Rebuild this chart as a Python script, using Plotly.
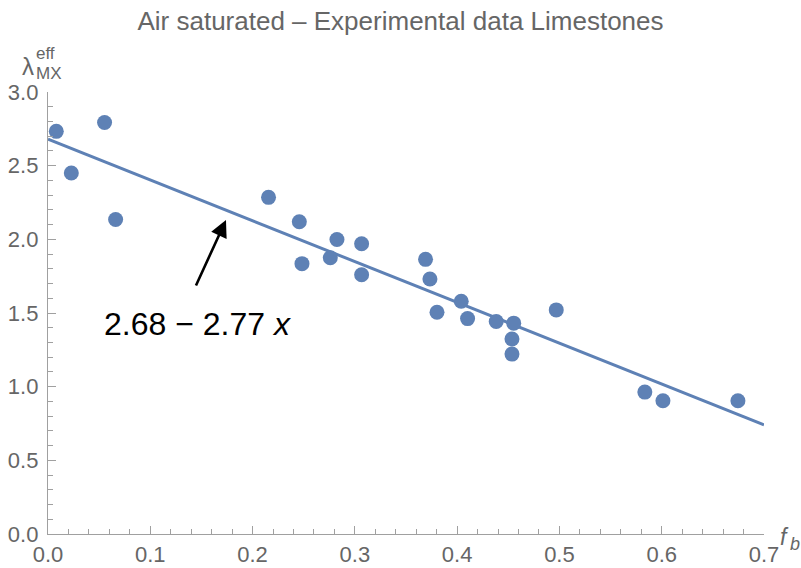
import plotly.graph_objects as go

# data
fb = [0.0081, 0.0228, 0.0553, 0.0661, 0.2156, 0.2457, 0.2483, 0.2760, 0.2825,
      0.3066, 0.3066, 0.3691, 0.3734, 0.3803, 0.4040, 0.4102, 0.4382, 0.4553,
      0.4536, 0.4536, 0.4969, 0.5835, 0.6012, 0.6745]
lam = [2.733, 2.450, 2.793, 2.135, 2.285, 2.119, 1.835, 1.875, 1.999,
       1.970, 1.760, 1.864, 1.731, 1.505, 1.580, 1.462, 1.442, 1.431,
       1.324, 1.221, 1.521, 0.963, 0.904, 0.904]
fit_a, fit_b = 2.68, -2.77
fit_x = [0.0, 0.7]
fit_y = [fit_a + fit_b * v for v in fit_x]

blue = "#5E81B5"
gray_axis = "#A0A0A0"
gray_text = "#666666"
font = "Liberation Sans"

fig = go.Figure()
fig.add_trace(go.Scatter(x=fit_x, y=fit_y, mode="lines",
                         line=dict(color=blue, width=3), hoverinfo="skip"))
fig.add_trace(go.Scatter(x=fb, y=lam, mode="markers",
                         marker=dict(color=blue, size=15, line=dict(width=0))))

fig.update_layout(
    width=801, height=568,
    margin=dict(l=47.7, r=37.3, t=91.5, b=33.5, autoexpand=False),
    paper_bgcolor="white", plot_bgcolor="white",
    showlegend=False,
    font=dict(family=font, color=gray_text),
    title=dict(text="Air saturated – Experimental data Limestones",
               x=0.5, xanchor="center", y=1 - 21 / 568, yanchor="middle",
               font=dict(size=26, color=gray_text, family=font)),
)
common = dict(showgrid=False, zeroline=False, showline=True, linecolor=gray_axis,
              linewidth=1.3, ticks="inside", ticklen=8, tickcolor=gray_axis,
              tickwidth=1.2, automargin=False,
              tickfont=dict(size=22, color=gray_text, family=font))
fig.update_xaxes(range=[0, 0.7], tick0=0, dtick=0.1, tickformat=".1f",
                 minor=dict(ticks="inside", ticklen=5, dtick=0.02, tickcolor=gray_axis, tickwidth=1),
                 **common)
fig.update_yaxes(range=[0, 3.0], tick0=0, dtick=0.5, tickformat=".1f",
                 ticklabelstandoff=4,
                 minor=dict(ticks="inside", ticklen=5, dtick=0.1, tickcolor=gray_axis, tickwidth=1),
                 **common)

# arrow
fig.add_annotation(x=0.174, y=2.131, ax=0.144, ay=1.677, xref="x", yref="y",
                   axref="x", ayref="y", showarrow=True, arrowhead=2,
                   arrowsize=1.3, arrowwidth=2.6, arrowcolor="black", text="")
fig.add_annotation(x=0.1464, y=1.426, xref="x", yref="y", showarrow=False,
                   text="2.68 − 2.77 <i>x</i>",
                   font=dict(size=32, color="black", family=font),
                   xanchor="center", yanchor="middle")

# axis labels
W, H = 716.0, 443.0
def px(xp):
    return (xp - 47.7) / W
def py(yp):
    return (534.5 - yp) / H

fig.add_annotation(x=px(21), y=py(66), xref="paper", yref="paper", showarrow=False,
                   text="λ", font=dict(size=24, color=gray_text, family=font),
                   xanchor="left", yanchor="middle", borderpad=0)
fig.add_annotation(x=px(35), y=py(52.5), xref="paper", yref="paper", showarrow=False,
                   text="eff", font=dict(size=17, color=gray_text, family=font),
                   xanchor="left", yanchor="middle", borderpad=0)
fig.add_annotation(x=px(35), y=py(73), xref="paper", yref="paper", showarrow=False,
                   text="MX", font=dict(size=17, color=gray_text, family=font),
                   xanchor="left", yanchor="middle", borderpad=0)
fig.add_annotation(x=px(779), y=py(538), xref="paper", yref="paper", showarrow=False,
                   text="<i>f</i>", font=dict(size=23, color=gray_text, family=font),
                   xanchor="left", yanchor="middle", borderpad=0)
fig.add_annotation(x=px(789), y=py(545), xref="paper", yref="paper", showarrow=False,
                   text="<i>b</i>", font=dict(size=18, color=gray_text, family=font),
                   xanchor="left", yanchor="middle", borderpad=0)

fig.write_html("out.html")
